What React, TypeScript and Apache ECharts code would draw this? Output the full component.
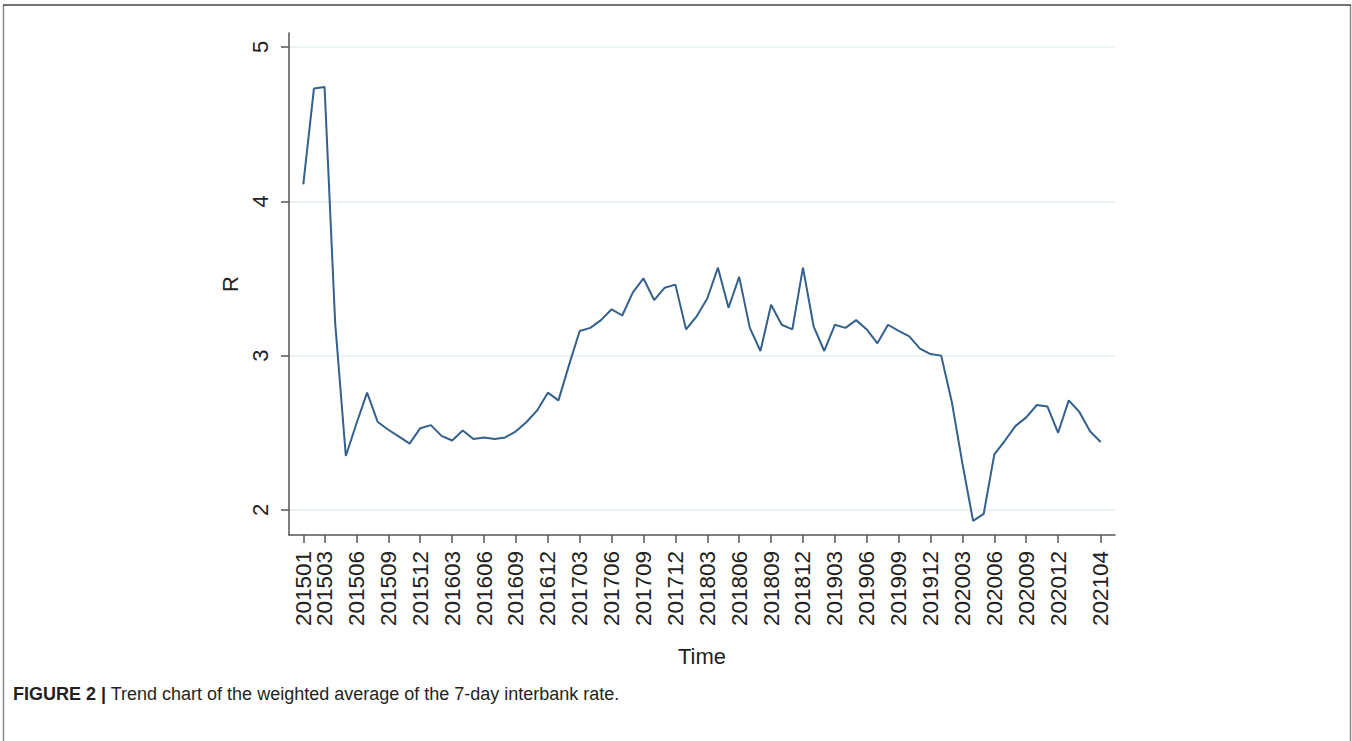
import React, { useEffect, useRef } from "react";
import * as echarts from "echarts";

const months: string[] = [
  "201501", "201502", "201503", "201504", "201505", "201506", "201507", "201508", "201509", "201510", "201511", "201512",
  "201601", "201602", "201603", "201604", "201605", "201606", "201607", "201608", "201609", "201610", "201611", "201612",
  "201701", "201702", "201703", "201704", "201705", "201706", "201707", "201708", "201709", "201710", "201711", "201712",
  "201801", "201802", "201803", "201804", "201805", "201806", "201807", "201808", "201809", "201810", "201811", "201812",
  "201901", "201902", "201903", "201904", "201905", "201906", "201907", "201908", "201909", "201910", "201911", "201912",
  "202001", "202002", "202003", "202004", "202005", "202006", "202007", "202008", "202009", "202010", "202011", "202012",
  "202101", "202102", "202103", "202104",
];

const rateValues: number[] = [
  4.11, 4.73, 4.74, 3.21, 2.35, 2.56, 2.76, 2.57, 2.52, 2.475, 2.43, 2.53,
  2.55, 2.48, 2.45, 2.515, 2.46, 2.47, 2.46, 2.47, 2.51, 2.57, 2.645, 2.76,
  2.71, 2.94, 3.16, 3.18, 3.23, 3.30, 3.26, 3.41, 3.50, 3.36, 3.44, 3.46,
  3.17, 3.255, 3.37, 3.57, 3.31, 3.51, 3.18, 3.03, 3.33, 3.20, 3.17, 3.57,
  3.19, 3.03, 3.20, 3.18, 3.23, 3.17, 3.08, 3.20, 3.16, 3.125, 3.045, 3.01,
  3.00, 2.70, 2.30, 1.93, 1.975, 2.36, 2.45, 2.545, 2.60, 2.68, 2.67, 2.50,
  2.71, 2.635, 2.51, 2.44,
];

// tick labels; the second one sits so close to the first that it goes on its own overlay axis
const xTickLabels: string[] = [
  "201501", "201506", "201509", "201512", "201603", "201606", "201609", "201612",
  "201703", "201706", "201709", "201712", "201803", "201806", "201809", "201812",
  "201903", "201906", "201909", "201912", "202003", "202006", "202009", "202012", "202104",
];
const xTickLabelsOverlay: string[] = ["201503"];

const yTicks: number[] = [2, 3, 4, 5];

const xTitle = "Time";
const yTitle = "R";
const captionBold = "FIGURE 2 |";
const captionText = " Trend chart of the weighted average of the 7-day interbank rate.";

const FONT = "Arial, 'Liberation Sans', Helvetica, sans-serif";
const X_MIN = -1.345;
const X_MAX = 76.35;

export default function App() {
  const ref = useRef<HTMLDivElement>(null);

  useEffect(() => {
    if (!ref.current) return;
    const chart = echarts.init(ref.current, undefined, { renderer: "svg" });
    const data = rateValues.map((v, i) => [i, v]);
    const tickIdx = xTickLabels.map((m) => months.indexOf(m));
    const tickIdx2 = xTickLabelsOverlay.map((m) => months.indexOf(m));

    const labelBase = {
      show: true,
      rotate: 90,
      margin: 16,
      showMinLabel: true,
      showMaxLabel: true,
      hideOverlap: false,
      fontFamily: FONT,
      fontSize: 22.5,
      color: "#222",
      formatter: (v: number) => months[Math.round(v)] ?? "",
    };

    chart.setOption({
      animation: false,
      backgroundColor: "#ffffff",
      grid: { left: 289, right: 237, top: 33, bottom: 206, containLabel: false },
      xAxis: [
        {
          type: "value",
          position: "bottom",
          offset: 0,
          min: X_MIN,
          max: X_MAX,
          name: xTitle,
          nameLocation: "middle",
          nameGap: 110,
          nameTextStyle: { fontFamily: FONT, fontSize: 22, color: "#222" },
          axisLine: { show: true, onZero: false, lineStyle: { color: "#555", width: 1.5 } },
          axisTick: { show: true, length: 8, customValues: tickIdx, lineStyle: { color: "#555", width: 1.5 } },
          axisLabel: { ...labelBase, customValues: tickIdx },
          splitLine: { show: false },
        },
        {
          type: "value",
          position: "bottom",
          offset: 0,
          min: X_MIN,
          max: X_MAX,
          axisLine: { show: false, onZero: false },
          axisTick: { show: true, length: 8, customValues: tickIdx2, lineStyle: { color: "#555", width: 1.5 } },
          axisLabel: { ...labelBase, customValues: tickIdx2 },
          splitLine: { show: false },
        },
      ],
      yAxis: {
        type: "value",
        min: 1.838,
        max: 5.09,
        name: yTitle,
        nameLocation: "middle",
        nameRotate: 90,
        nameGap: 48,
        nameTextStyle: { fontFamily: FONT, fontSize: 22, color: "#222" },
        axisLine: { show: true, onZero: false, lineStyle: { color: "#555", width: 1.5 } },
        axisTick: { show: true, length: 8, customValues: yTicks, lineStyle: { color: "#555", width: 1.5 } },
        axisLabel: {
          show: true,
          customValues: yTicks,
          rotate: 90,
          margin: 18,
          showMinLabel: true,
          showMaxLabel: true,
          fontFamily: FONT,
          fontSize: 22,
          color: "#222",
        },
        splitLine: { show: true, lineStyle: { color: "#e6eff1", width: 1.5 } },
      },
      series: [
        {
          type: "line",
          xAxisIndex: 0,
          data,
          showSymbol: false,
          symbol: "none",
          lineStyle: { color: "#33608c", width: 2 },
          silent: true,
        },
      ],
      graphic: [
        { type: "line", shape: { x1: 3.5, y1: 5, x2: 3.5, y2: 741 }, style: { stroke: "#8a8a8a", lineWidth: 1.5 } },
        { type: "line", shape: { x1: 1350.5, y1: 5, x2: 1350.5, y2: 741 }, style: { stroke: "#8a8a8a", lineWidth: 1.5 } },
        { type: "line", shape: { x1: 3, y1: 5, x2: 1351, y2: 5 }, style: { stroke: "#444", lineWidth: 1.5 } },
        {
          type: "text",
          left: 13,
          top: 685,
          style: {
            text: "{b|" + captionBold + "}{n|" + captionText + "}",
            rich: {
              b: { fontFamily: FONT, fontSize: 18, fontWeight: "bold", fill: "#231f20" },
              n: { fontFamily: FONT, fontSize: 18, fill: "#231f20" },
            },
          },
        },
      ],
    });

    return () => chart.dispose();
  }, []);

  return (
    <div
      ref={ref}
      style={{ position: "fixed", left: 0, top: 0, width: 1352, height: 741, background: "#fff" }}
    />
  );
}
